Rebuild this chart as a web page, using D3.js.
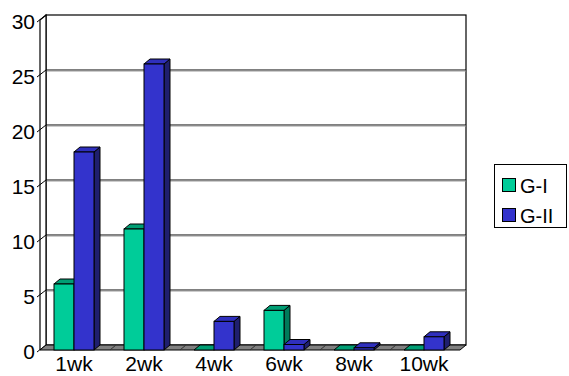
<!DOCTYPE html>
<html lang="en">
<head>
    <meta charset="UTF-8">
    <title>G-I vs G-II by week</title>
    <script src="https://d3js.org/d3.v7.min.js"></script>
    <style>
        body { margin: 0; background: #fff; }
        text { font-family: "Liberation Sans", Arial, sans-serif; fill: #000; }
    </style>
</head>
<body>
<div id="chart"></div>
<script>

// weeks along the bottom
const weeks = ['1wk', '2wk', '4wk', '6wk', '8wk', '10wk'];
const seriesNames = ['G-I', 'G-II'];
// values
const gOne = [6, 11, 0, 3.6, 0, 0];
const gTwo = [18, 26, 2.6, 0.5, 0.2, 1.2];
const yTicks = [0, 5, 10, 15, 20, 25, 30];

const colors = {
    'G-I': {front: '#00cc99', top: '#009e74', side: '#007a5a'},
    'G-II': {front: '#3333cc', top: '#2f2fbd', side: '#1f1f6e'}
};

const width = 569, height = 376;
const dx = 6, dy = -5; // 3d depth offset

const svg = d3.select('#chart').append('svg')
    .attr('width', width)
    .attr('height', height);

const x = d3.scaleBand().domain(weeks).range([40, 460]).paddingInner(0).paddingOuter(0);
const inner = d3.scaleBand().domain(seriesNames).range([14, 54]);
const y = d3.scaleLinear().domain([0, 30]).range([350, 20]);

// back wall
svg.append('rect')
    .attr('x', 40 + dx).attr('y', y(30) + dy)
    .attr('width', 420).attr('height', y(0) - y(30))
    .style('fill', '#fff').style('stroke', '#000').style('stroke-width', 1.2);

// grid lines with the left wall slant
yTicks.forEach(t => {
    if (t === 0 || t === 30) return;
    svg.append('line')
        .attr('x1', 40 + dx).attr('x2', 460 + dx)
        .attr('y1', y(t) + dy).attr('y2', y(t) + dy)
        .style('stroke', '#000').style('stroke-width', 1);
    svg.append('line')
        .attr('x1', 40 + dx).attr('x2', 460 + dx)
        .attr('y1', y(t) + dy + 1).attr('y2', y(t) + dy + 1)
        .style('stroke', '#999').style('stroke-width', 1);
});

// left wall
svg.append('path')
    .attr('d', `M40,${y(0)} L40,${y(30)} L${40 + dx},${y(30) + dy} L${40 + dx},${y(0) + dy}`)
    .style('fill', '#fff').style('stroke', '#000').style('stroke-width', 1.2);

yTicks.forEach(t => {
    svg.append('line')
        .attr('x1', 37).attr('y1', y(t) + 2)
        .attr('x2', 40 + dx).attr('y2', y(t) + dy)
        .style('stroke', '#000').style('stroke-width', 1);
    svg.append('text')
        .attr('x', 35).attr('y', y(t) + 1)
        .attr('text-anchor', 'end')
        .attr('dominant-baseline', 'central')
        .style('font-size', '21px')
        .text(t);
});

// floor
svg.append('path')
    .attr('d', `M40,${y(0)} L460,${y(0)} L${460 + dx},${y(0) + dy} L${40 + dx},${y(0) + dy} Z`)
    .style('fill', '#808080').style('stroke', '#000').style('stroke-width', 1);
weeks.forEach((w, i) => {
    if (i === 0) return;
    const bx = x(w);
    svg.append('line')
        .attr('x1', bx).attr('y1', y(0))
        .attr('x2', bx + dx).attr('y2', y(0) + dy)
        .style('stroke', '#333').style('stroke-width', 1);
});

// bars
const rows = weeks.map((w, i) => ({week: w, vals: [gOne[i], gTwo[i]]}));
rows.forEach(r => {
    r.vals.forEach((v, j) => {
        const name = seriesNames[j];
        const c = colors[name];
        const x0 = x(r.week) + inner(name);
        const x1 = x0 + inner.bandwidth();
        const yt = y(v), yb = y(0);
        const g = svg.append('g');
        g.append('path')
            .attr('d', `M${x1},${yt} L${x1 + dx},${yt + dy} L${x1 + dx},${yb + dy} L${x1},${yb} Z`)
            .style('fill', c.side).style('stroke', '#000').style('stroke-width', 1);
        g.append('path')
            .attr('d', `M${x0},${yt} L${x0 + dx},${yt + dy} L${x1 + dx},${yt + dy} L${x1},${yt} Z`)
            .style('fill', c.top).style('stroke', '#000').style('stroke-width', 1);
        if (v > 0) {
            g.append('rect')
                .attr('x', x0).attr('y', yt)
                .attr('width', x1 - x0).attr('height', yb - yt)
                .style('fill', c.front).style('stroke', '#000').style('stroke-width', 1);
        }
    });
});

// x labels
svg.selectAll('.xlab').data(weeks).enter().append('text')
    .attr('class', 'xlab')
    .attr('x', d => x(d) + x.bandwidth() / 2 - 1)
    .attr('y', 371)
    .attr('text-anchor', 'middle')
    .style('font-size', '21px')
    .text(d => d);

// legend
const legend = svg.append('g');
legend.append('rect')
    .attr('x', 494.5).attr('y', 164.5).attr('width', 72).attr('height', 63)
    .style('fill', '#fff').style('stroke', '#000').style('stroke-width', 1);
seriesNames.forEach((name, i) => {
    const ly = 178 + i * 30;
    legend.append('rect')
        .attr('x', 502.5).attr('y', ly + 0.5).attr('width', 13).attr('height', 13)
        .style('fill', colors[name].front).style('stroke', '#000').style('stroke-width', 1);
    legend.append('text')
        .attr('x', 520).attr('y', ly + 8)
        .attr('dominant-baseline', 'central')
        .style('font-size', '20px')
        .text(name);
});

</script>
</body>
</html>
